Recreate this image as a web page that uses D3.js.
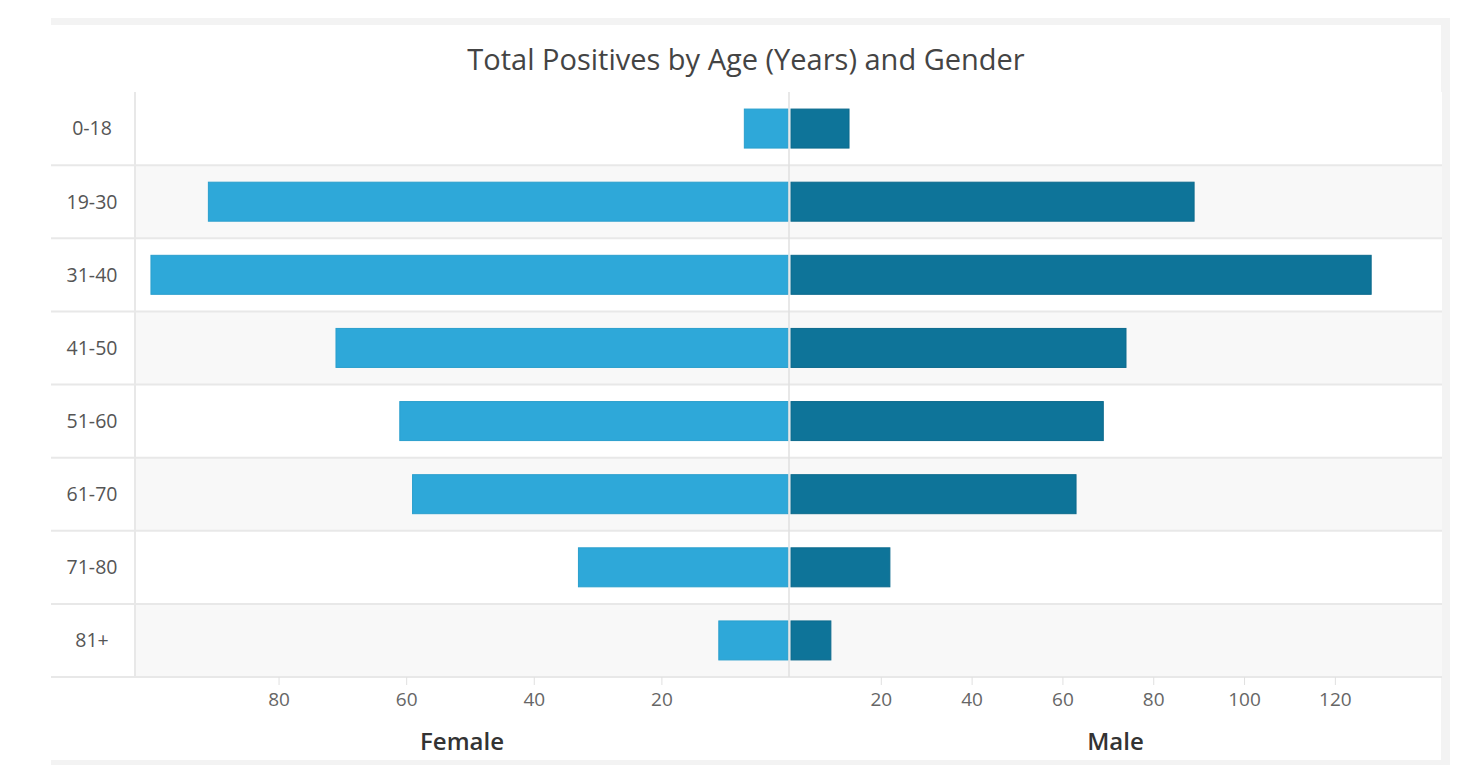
<!DOCTYPE html>
<html>
<head>
<meta charset="utf-8">
<script src="https://cdn.jsdelivr.net/npm/d3@7"></script>
<style>
  html, body { margin: 0; padding: 0; background: #fff; }
  body { width: 1460px; height: 782px; overflow: hidden; font-family: "Open Sans", "Noto Sans", sans-serif; }
</style>
</head>
<body>
<svg id="chart" width="1460" height="782"></svg>
<script>
// age groups (top to bottom)
const ageGroups = ['0-18', '19-30', '31-40', '41-50', '51-60', '61-70', '71-80', '81+'];

// counts per age group
const femaleValues = [7, 91, 100, 71, 61, 59, 33, 11];
const maleValues = [13, 89, 128, 74, 69, 63, 22, 9];

// tick labels on each half
const femaleTicks = [20, 40, 60, 80];
const maleTicks = [20, 40, 60, 80, 100, 120];

const title = 'Total Positives by Age (Years) and Gender';

const svg = d3.select('#chart');

// frame + panel
const panel = {x: 51, y: 25, w: 1390, h: 735};
svg.append('rect')
    .attr('x', panel.x).attr('y', panel.y - 7)
    .attr('width', panel.w + 9).attr('height', panel.h + 12)
    .attr('fill', '#f3f3f3');
svg.append('rect')
    .attr('x', panel.x).attr('y', panel.y)
    .attr('width', panel.w).attr('height', panel.h)
    .attr('fill', '#fff');

const plot = {left: 135, right: 1442, top: 92, bottom: 677, center: 789};

const y = d3.scaleBand()
    .domain(ageGroups)
    .range([plot.top, plot.bottom]);

// the two halves use different scales
const xFemale = d3.scaleLinear().domain([0, 102.5]).range([plot.center, plot.left]);
const xMale = d3.scaleLinear().domain([0, 143.6]).range([plot.center + 1, plot.right]);

const barH = 39;

// alternating row backgrounds
svg.append('g')
  .selectAll('rect')
  .data(ageGroups)
  .join('rect')
    .attr('x', plot.left)
    .attr('y', d => y(d))
    .attr('width', plot.right - plot.left)
    .attr('height', y.bandwidth())
    .attr('fill', (d, i) => i % 2 ? '#f8f8f8' : '#fff');

// row separators
svg.append('g')
  .selectAll('line')
  .data(ageGroups)
  .join('line')
    .attr('x1', panel.x)
    .attr('x2', plot.right)
    .attr('y1', d => y(d) + y.bandwidth())
    .attr('y2', d => y(d) + y.bandwidth())
    .attr('stroke', '#e8e8e8')
    .attr('stroke-width', 2);

// left axis line
svg.append('line')
    .attr('x1', plot.left).attr('x2', plot.left)
    .attr('y1', plot.top).attr('y2', plot.bottom)
    .attr('stroke', '#e8e8e8')
    .attr('stroke-width', 2);

// center line
svg.append('line')
    .attr('x1', plot.center).attr('x2', plot.center)
    .attr('y1', plot.top).attr('y2', plot.bottom)
    .attr('stroke', '#e0e0e0')
    .attr('stroke-width', 1.5);

// bars
const barY = d => y(d) + (y.bandwidth() - barH) / 2;

svg.append('g')
  .selectAll('rect')
  .data(ageGroups)
  .join('rect')
    .attr('x', (d, i) => xFemale(femaleValues[i]))
    .attr('y', barY)
    .attr('width', (d, i) => xFemale(0) - xFemale(femaleValues[i]) - 1.3)
    .attr('height', barH)
    .attr('fill', '#2ea8d9')
    .attr('stroke', '#2a9fcd')
    .attr('stroke-width', 1);

svg.append('g')
  .selectAll('rect')
  .data(ageGroups)
  .join('rect')
    .attr('x', xMale(0) + 1)
    .attr('y', barY)
    .attr('width', (d, i) => xMale(maleValues[i]) - xMale(0) - 1)
    .attr('height', barH)
    .attr('fill', '#0e7499')
    .attr('stroke', '#0c6a8d')
    .attr('stroke-width', 1);

// category labels
svg.append('g')
  .selectAll('text')
  .data(ageGroups)
  .join('text')
    .attr('x', 92)
    .attr('y', d => y(d) + y.bandwidth() / 2)
    .attr('dy', '0.35em')
    .attr('text-anchor', 'middle')
    .attr('font-size', 19.5)
    .attr('fill', '#555')
    .text(d => d);

// bottom axes
function drawAxis (scale, ticks) {
  const g = svg.append('g')
      .attr('transform', `translate(0,${plot.bottom})`)
      .call(d3.axisBottom(scale).tickValues(ticks).tickSize(8).tickPadding(8));
  g.select('.domain').remove();
  g.selectAll('.tick line').attr('stroke', '#e0e0e0');
  g.selectAll('.tick text')
      .attr('font-family', '"Open Sans", "Noto Sans", sans-serif')
      .attr('font-size', 19)
      .attr('fill', '#666');
}
drawAxis(xFemale, femaleTicks);
drawAxis(xMale, maleTicks);

// axis titles
svg.append('text')
    .attr('x', (plot.left + plot.center) / 2)
    .attr('y', 750)
    .attr('text-anchor', 'middle')
    .attr('font-size', 24)
    .attr('font-weight', 600)
    .attr('fill', '#333')
    .text('Female');

svg.append('text')
    .attr('x', (plot.center + plot.right) / 2)
    .attr('y', 750)
    .attr('text-anchor', 'middle')
    .attr('font-size', 24)
    .attr('font-weight', 600)
    .attr('fill', '#333')
    .text('Male');

// chart title
svg.append('text')
    .attr('x', panel.x + panel.w / 2)
    .attr('y', 70)
    .attr('text-anchor', 'middle')
    .attr('font-size', 29)
    .attr('fill', '#444')
    .text(title);
</script>
</body>
</html>
